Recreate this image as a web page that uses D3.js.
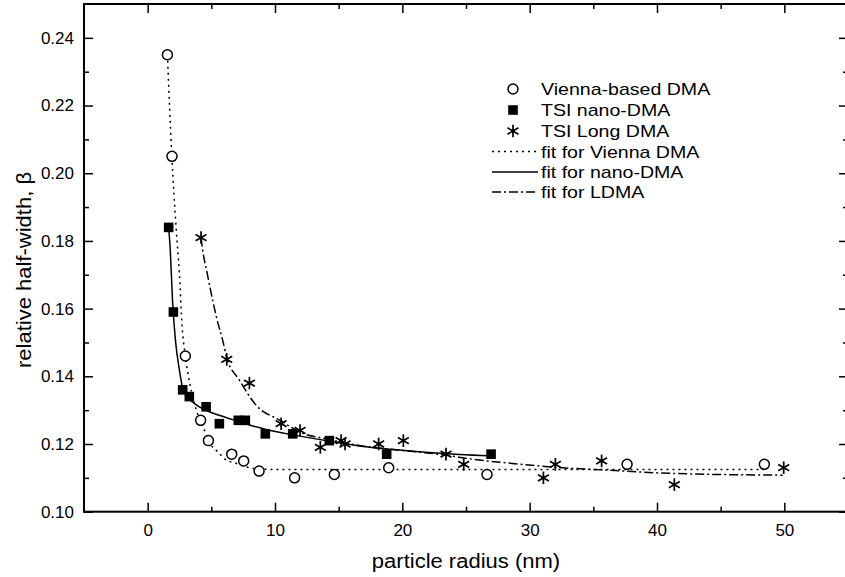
<!DOCTYPE html>
<html>
<head>
<meta charset="utf-8">
<script src="https://cdn.jsdelivr.net/npm/d3@7"></script>
<style>
  body { margin: 0; background: #fff; }
  text { font-family: Arial, "Liberation Sans", sans-serif; fill: #000; }
</style>
</head>
<body>
<svg id="chart" width="845" height="577"></svg>
<script>
// measured points
var vienna_x = [1.55, 1.91, 2.96, 4.16, 4.77, 6.6, 7.54, 8.75, 11.54, 14.66, 18.93, 26.65, 37.65, 48.43];
var vienna_y = [0.235, 0.205, 0.146, 0.127, 0.121, 0.117, 0.115, 0.112, 0.110, 0.111, 0.113, 0.111, 0.114, 0.114];

var nano_x = [1.65, 2.02, 2.75, 3.27, 4.59, 5.63, 7.12, 7.67, 9.24, 11.39, 14.27, 18.77, 26.97];
var nano_y = [0.184, 0.159, 0.136, 0.134, 0.131, 0.126, 0.127, 0.127, 0.123, 0.123, 0.121, 0.117, 0.117];

var ldma_x = [4.19, 6.21, 7.99, 10.48, 11.97, 13.56, 15.19, 15.5, 18.14, 20.08, 23.43, 24.82, 31.08, 32.02, 35.65, 41.36, 49.95];
var ldma_y = [0.181, 0.145, 0.138, 0.126, 0.124, 0.119, 0.121, 0.120, 0.120, 0.121, 0.117, 0.114, 0.110, 0.114, 0.115, 0.108, 0.113];

// fit curves
var fitV_x = [1.55, 1.9, 2.23, 2.49, 2.7, 2.96, 3.3, 3.6, 4.0, 4.47, 4.98, 5.37, 6.16, 6.94, 8.25, 9.8, 15, 25, 35, 48.4];
var fitV_y = [0.235, 0.205, 0.184, 0.1705, 0.155, 0.146, 0.138, 0.133, 0.128, 0.124, 0.1197, 0.1182, 0.1153, 0.1143, 0.1128, 0.1125, 0.1125, 0.1125, 0.1125, 0.1125];

var fitN_x = [1.65, 1.78, 1.95, 2.18, 2.49, 2.75, 3.01, 3.5, 4.06, 4.8, 5.37, 6.68, 8, 9.3, 11.39, 14.53, 17.15, 19.77, 22.38, 24.48, 26.97];
var fitN_y = [0.184, 0.177, 0.1625, 0.1507, 0.1419, 0.1365, 0.1345, 0.1325, 0.131, 0.1296, 0.1288, 0.1272, 0.1256, 0.1243, 0.1227, 0.1207, 0.1192, 0.1182, 0.1174, 0.1169, 0.1165];

var fitL_x = [4.19, 4.32, 4.7, 5.1, 5.5, 5.89, 6.21, 7.2, 8.51, 10.34, 12.17, 14.2, 16.37, 19.77, 23.43, 25.52, 28.8, 32.07, 36, 41.23, 49.87];
var fitL_y = [0.181, 0.1773, 0.170, 0.1625, 0.156, 0.1507, 0.1455, 0.1389, 0.1315, 0.1271, 0.1232, 0.1214, 0.1197, 0.1182, 0.1167, 0.1155, 0.1142, 0.1131, 0.1123, 0.1113, 0.1108];

var xMajor = [0, 10, 20, 30, 40, 50];
var xMinor = [5, 15, 25, 35, 45];
var yMajor = [0.10, 0.12, 0.14, 0.16, 0.18, 0.20, 0.22, 0.24];
var yMinor = [0.11, 0.13, 0.15, 0.17, 0.19, 0.21, 0.23];

var legendLabels = ["Vienna-based DMA", "TSI nano-DMA", "TSI Long DMA", "fit for Vienna DMA", "fit for nano-DMA", "fit for LDMA"];

var svg = d3.select("#chart");
var L = 84, R = 848, T = 4, B = 511.7;

var x = d3.scaleLinear().domain([-5, 55]).range([L, R]);
var y = d3.scaleLinear().domain([0.10, 0.25]).range([B, T]);

function stretch(sel, f) {
  sel.each(function() {
    var w = this.getComputedTextLength();
    d3.select(this).attr("textLength", w * f).attr("lengthAdjust", "spacingAndGlyphs");
  });
}

// axes, ticks pointing inwards
function axisStyle(g) {
  g.select(".domain").remove();
  g.selectAll(".tick line").attr("stroke", "#000").attr("stroke-width", 1.5);
  g.selectAll(".tick text").style("font-size", "17px").attr("fill", "#000");
}
var fmtY = d3.format(".2f");

svg.append("g").attr("transform", "translate(0," + B + ")")
  .call(d3.axisBottom(x).tickValues(xMajor).tickSize(-9).tickPadding(12).tickSizeOuter(0))
  .call(axisStyle);
svg.append("g").attr("transform", "translate(0," + B + ")")
  .call(d3.axisBottom(x).tickValues(xMinor).tickSize(-5).tickFormat("").tickSizeOuter(0))
  .call(axisStyle);
svg.append("g").attr("transform", "translate(0," + T + ")")
  .call(d3.axisTop(x).tickValues(xMajor).tickSize(-9).tickFormat("").tickSizeOuter(0))
  .call(axisStyle);
svg.append("g").attr("transform", "translate(0," + T + ")")
  .call(d3.axisTop(x).tickValues(xMinor).tickSize(-5).tickFormat("").tickSizeOuter(0))
  .call(axisStyle);

svg.append("g").attr("transform", "translate(" + L + ",0)")
  .call(d3.axisLeft(y).tickValues(yMajor).tickSize(-9).tickPadding(10).tickFormat(fmtY).tickSizeOuter(0))
  .call(axisStyle);
svg.append("g").attr("transform", "translate(" + L + ",0)")
  .call(d3.axisLeft(y).tickValues(yMinor).tickSize(-5).tickFormat("").tickSizeOuter(0))
  .call(axisStyle);
svg.append("g").attr("transform", "translate(" + R + ",0)")
  .call(d3.axisRight(y).tickValues(yMajor).tickSize(-9).tickFormat("").tickSizeOuter(0))
  .call(axisStyle);
svg.append("g").attr("transform", "translate(" + R + ",0)")
  .call(d3.axisRight(y).tickValues(yMinor).tickSize(-5).tickFormat("").tickSizeOuter(0))
  .call(axisStyle);

svg.append("rect")
  .attr("x", L).attr("y", T).attr("width", R - L).attr("height", B - T)
  .attr("fill", "none").attr("stroke", "#000").attr("stroke-width", 2);

// axis titles
svg.append("text")
  .attr("x", (L + R) / 2).attr("y", 568)
  .attr("text-anchor", "middle")
  .style("font-size", "20px")
  .text("particle radius (nm)")
  .call(stretch, 1.1);

svg.append("text")
  .attr("transform", "translate(31,270) rotate(-90)")
  .attr("text-anchor", "middle")
  .style("font-size", "20px")
  .text("relative half-width, β")
  .call(stretch, 1.1);

// fit lines
var line = d3.line().x(function(d) { return x(d[0]); }).y(function(d) { return y(d[1]); })
  .curve(d3.curveMonotoneX);

function drawFit(xs, ys, dash) {
  svg.append("path")
    .datum(d3.zip(xs, ys))
    .attr("d", line)
    .attr("fill", "none")
    .attr("stroke", "#000")
    .attr("stroke-width", 1.5)
    .attr("stroke-dasharray", dash);
}
drawFit(fitV_x, fitV_y, "2,4");
drawFit(fitN_x, fitN_y, null);
drawFit(fitL_x, fitL_y, "9,3,2,3");

// markers
function circleMark(g, cx, cy) {
  g.append("circle").attr("cx", cx).attr("cy", cy).attr("r", 5)
    .attr("fill", "#fff").attr("stroke", "#000").attr("stroke-width", 1.5);
}
function squareMark(g, cx, cy) {
  g.append("rect").attr("x", cx - 4.8).attr("y", cy - 4.8).attr("width", 9.6).attr("height", 9.6)
    .attr("fill", "#000");
}
function starMark(g, cx, cy) {
  var r = 6.3;
  [90, 30, 150].forEach(function(a) {
    var dx = r * Math.cos(a * Math.PI / 180), dy = r * Math.sin(a * Math.PI / 180);
    g.append("line").attr("x1", cx - dx).attr("y1", cy - dy).attr("x2", cx + dx).attr("y2", cy + dy)
      .attr("stroke", "#000").attr("stroke-width", 1.7);
  });
  g.append("circle").attr("cx", cx).attr("cy", cy).attr("r", 1.8).attr("fill", "#000");
}

var marks = svg.append("g");
ldma_x.forEach(function(v, i) { starMark(marks, x(v), y(ldma_y[i])); });
nano_x.forEach(function(v, i) { squareMark(marks, x(v), y(nano_y[i])); });
vienna_x.forEach(function(v, i) { circleMark(marks, x(v), y(vienna_y[i])); });

// legend
var lg = svg.append("g");
var rowY = [89, 110, 131, 151.5, 172, 192];
circleMark(lg, 513, rowY[0]);
squareMark(lg, 513, rowY[1]);
starMark(lg, 513, rowY[2]);
var dashes = ["2,4", null, "9,3,2,3"];
for (var i = 0; i < 3; i++) {
  lg.append("line")
    .attr("x1", 492).attr("x2", 538)
    .attr("y1", rowY[3 + i]).attr("y2", rowY[3 + i])
    .attr("stroke", "#000").attr("stroke-width", 1.5)
    .attr("stroke-dasharray", dashes[i]);
}
for (var i = 0; i < 6; i++) {
  lg.append("text")
    .attr("x", 541).attr("y", rowY[i] + 6)
    .style("font-size", "17px")
    .text(legendLabels[i])
    .call(stretch, 1.15);
}
</script>
</body>
</html>
